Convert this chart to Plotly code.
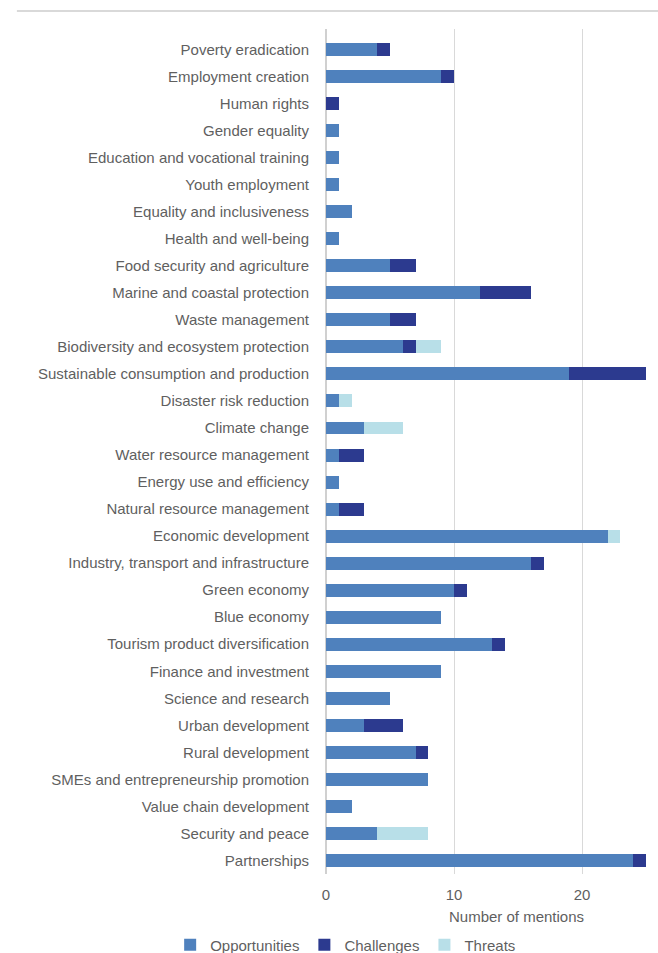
import plotly.graph_objects as go

categories = [
    "Poverty eradication", "Employment creation", "Human rights", "Gender equality",
    "Education and vocational training", "Youth employment", "Equality and inclusiveness",
    "Health and well-being", "Food security and agriculture", "Marine and coastal protection",
    "Waste management", "Biodiversity and ecosystem protection",
    "Sustainable consumption and production", "Disaster risk reduction", "Climate change",
    "Water resource management", "Energy use and efficiency", "Natural resource management",
    "Economic development", "Industry, transport and infrastructure", "Green economy",
    "Blue economy", "Tourism product diversification", "Finance and investment",
    "Science and research", "Urban development", "Rural development",
    "SMEs and entrepreneurship promotion", "Value chain development", "Security and peace",
    "Partnerships",
]
opportunities = [4, 9, 0, 1, 1, 1, 2, 1, 5, 12, 5, 6, 19, 1, 3, 1, 1, 1, 22, 16, 10, 9, 13, 9, 5, 3, 7, 8, 2, 4, 24]
challenges    = [1, 1, 1, 0, 0, 0, 0, 0, 2, 4, 2, 1, 6, 0, 0, 2, 0, 2, 0, 1, 1, 0, 1, 0, 0, 3, 1, 0, 0, 0, 1]
threats       = [0, 0, 0, 0, 0, 0, 0, 0, 0, 0, 0, 2, 0, 1, 3, 0, 0, 0, 1, 0, 0, 0, 0, 0, 0, 0, 0, 0, 0, 4, 0]
x_ticks = [0, 10, 20]

series = [
    ("Opportunities", opportunities, "#4f81bd"),
    ("Challenges", challenges, "#2c3a8f"),
    ("Threats", threats, "#b8dfe8"),
]

fig = go.Figure()
for name, vals, color in series:
    fig.add_trace(go.Bar(
        y=categories, x=vals, name=name, orientation="h",
        marker=dict(color=color, line=dict(width=0)),
    ))

font_color = "#5f5f5f"
text_font = "Liberation Sans, Arial, sans-serif"
fig.update_layout(
    barmode="stack",
    bargap=0.52,
    width=658, height=953,
    margin=dict(l=326, r=12, t=29, b=79, autoexpand=False),
    paper_bgcolor="white", plot_bgcolor="white",
    font=dict(family=text_font, size=14, color=font_color),
    xaxis=dict(
        range=[0, 25], tickvals=x_ticks, showgrid=True, gridcolor="#d9d9d9", gridwidth=1,
        zeroline=True, zerolinecolor="#d0d0d0", zerolinewidth=2,
        showline=False, ticks="", ticklabelstandoff=10,
        tickfont=dict(size=15, color=font_color),
    ),
    yaxis=dict(
        categoryorder="array", categoryarray=categories,
        range=[30.5, -0.76], showgrid=False, zeroline=False, ticks="",
        ticklabelstandoff=16, tickfont=dict(size=15, color=font_color),
    ),
    legend=dict(
        orientation="h", x=-0.487, xanchor="left", y=-0.084, yanchor="middle",
        font=dict(size=15, color=font_color), traceorder="normal",
    ),
    showlegend=True,
    shapes=[dict(
        type="line", xref="paper", yref="paper",
        x0=-0.966, x1=1.04, y0=1.0213, y1=1.0213,
        line=dict(color="#d9d9d9", width=2),
    )],
    annotations=[dict(
        text="Number of mentions", xref="paper", yref="paper",
        x=0.596, y=-0.038, xanchor="center", yanchor="top", showarrow=False,
        font=dict(size=15, color=font_color),
    )],
)

fig.write_html("out.html")
